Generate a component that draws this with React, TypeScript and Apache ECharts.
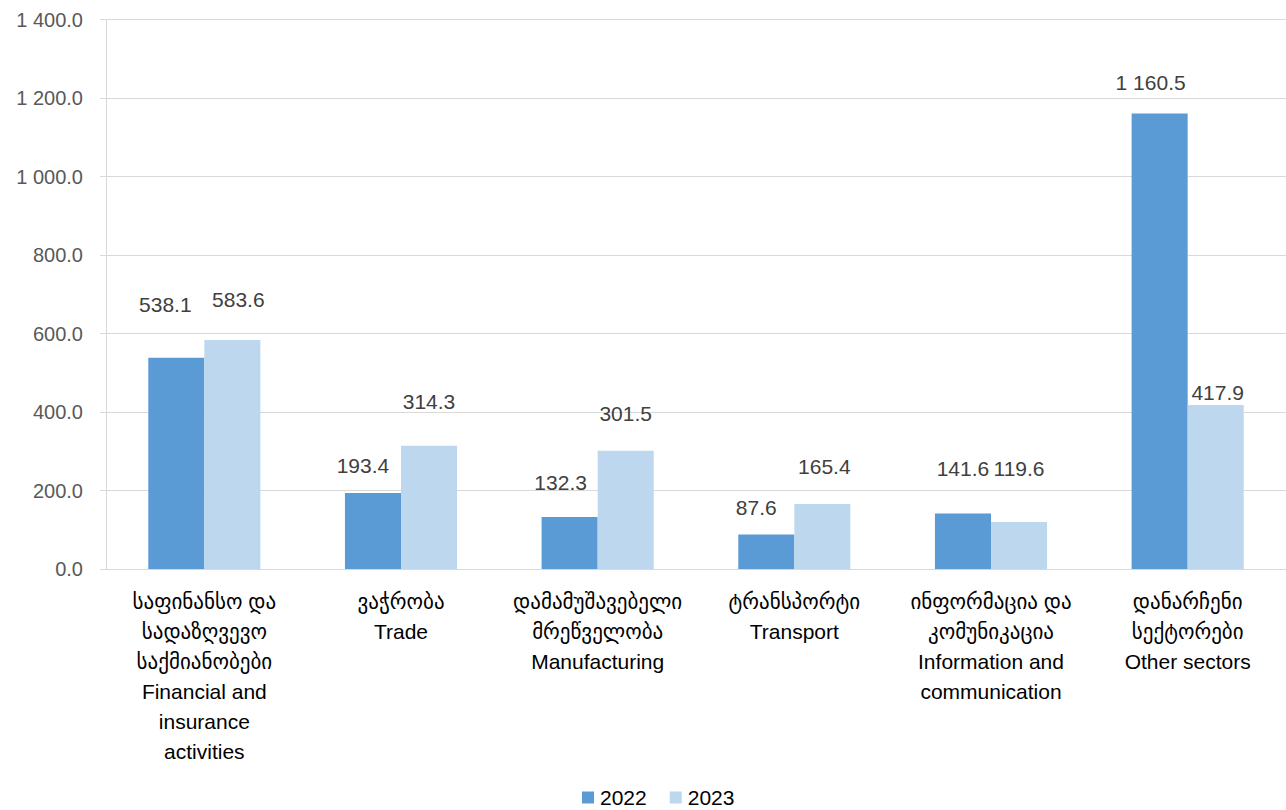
import React, { useEffect, useRef } from "react";
import * as echarts from "echarts";

const categories = [
  "საფინანსო და\nსადაზღვევო\nსაქმიანობები\nFinancial and\ninsurance\nactivities",
  "ვაჭრობა\nTrade",
  "დამამუშავებელი\nმრეწველობა\nManufacturing",
  "ტრანსპორტი\nTransport",
  "ინფორმაცია და\nკომუნიკაცია\nInformation and\ncommunication",
  "დანარჩენი\nსექტორები\nOther sectors",
];
const values2022 = [538.1, 193.4, 132.3, 87.6, 141.6, 1160.5];
const values2023 = [583.6, 314.3, 301.5, 165.4, 119.6, 417.9];
const seriesNames = ["2022", "2023"];
const yTicks = { min: 0, max: 1400, interval: 200 };

// label layout nudges (as placed in the original)
const labelOffsets2022: [number, number][] = [[-11, -43], [-10, -17], [-9, -24], [-10, -17], [0, -34], [-9, -21]];
const labelOffsets2023: [number, number][] = [[6, -30], [0, -34], [0, -27], [2, -27], [0, -43], [2, -2]];

const FONT = "'Liberation Sans', Arial, 'DejaVu Sans', sans-serif";

function fmt(v: number): string {
  const [i, d] = v.toFixed(1).split(".");
  return i.replace(/\B(?=(\d{3})+(?!\d))/g, " ") + "." + d;
}

export default function App() {
  const ref = useRef<HTMLDivElement>(null);
  useEffect(() => {
    if (!ref.current) return;
    const chart = echarts.init(ref.current, undefined, { renderer: "svg" });
    const mk = (vals: number[], offs: [number, number][]) =>
      vals.map((v, i) => ({ value: v, label: { offset: offs[i] } }));
    const labelBase = {
      show: true,
      position: "top" as const,
      distance: 0,
      fontFamily: FONT,
      fontSize: 21,
      color: "#404040",
      formatter: (p: any) => fmt(p.value),
    };
    chart.setOption({
      animation: false,
      textStyle: { fontFamily: FONT },
      grid: { left: 106, right: 0, top: 19.5, bottom: 241, containLabel: false },
      legend: {
        data: seriesNames,
        left: 582,
        top: 787,
        padding: 0,
        itemWidth: 12,
        itemHeight: 12,
        itemGap: 23,
        icon: "rect",
        textStyle: { fontFamily: FONT, fontSize: 21, color: "#000000", padding: [0, 0, 0, 1] },
      },
      xAxis: {
        type: "category",
        data: categories,
        axisLine: { show: true, lineStyle: { color: "#D9D9D9", width: 1 } },
        axisTick: { show: false },
        axisLabel: {
          interval: 0,
          margin: 17,
          fontFamily: FONT,
          fontSize: 21,
          lineHeight: 30,
          color: "#000000",
          align: "center",
        },
      },
      yAxis: {
        type: "value",
        min: yTicks.min,
        max: yTicks.max,
        interval: yTicks.interval,
        axisLine: { show: true, lineStyle: { color: "#D9D9D9", width: 1 } },
        axisTick: { show: true, length: 6, lineStyle: { color: "#D9D9D9" } },
        splitLine: { show: true, lineStyle: { color: "#D9D9D9", width: 1 } },
        axisLabel: {
          margin: 23,
          fontFamily: FONT,
          fontSize: 20,
          color: "#595959",
          formatter: (v: number) => fmt(v),
        },
      },
      series: [
        {
          name: seriesNames[0],
          type: "bar",
          data: mk(values2022, labelOffsets2022),
          itemStyle: { color: "#5B9BD5" },
          barGap: "0%",
          barCategoryGap: "43%",
          label: labelBase,
        },
        {
          name: seriesNames[1],
          type: "bar",
          data: mk(values2023, labelOffsets2023),
          itemStyle: { color: "#BDD7EE" },
          barGap: "0%",
          barCategoryGap: "43%",
          label: labelBase,
        },
      ],
    });
    return () => chart.dispose();
  }, []);
  return (
    <div
      ref={ref}
      style={{ position: "absolute", left: 0, top: 0, width: 1286, height: 810, background: "#fff" }}
    />
  );
}
